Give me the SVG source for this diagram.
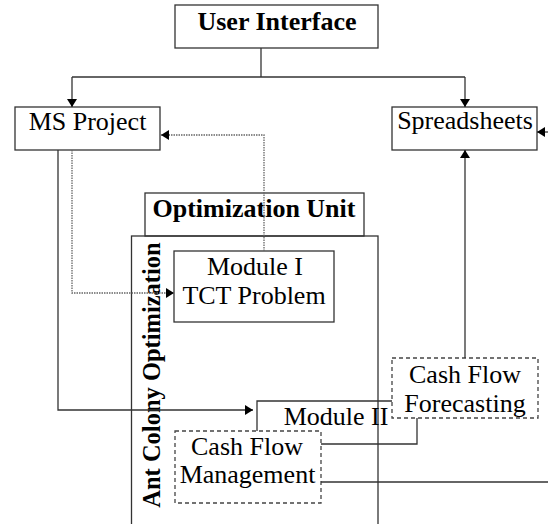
<svg xmlns="http://www.w3.org/2000/svg" width="548" height="524" viewBox="0 0 548 524">
<style>
.box{fill:none;stroke:#333;stroke-width:1.3}
.dbox{fill:none;stroke:#444;stroke-width:1.3;stroke-dasharray:4 3}
.t{font-family:"Liberation Serif","Times New Roman",serif;font-size:26px;fill:#000;text-anchor:middle}
.b{font-weight:bold}
.v{font-size:24.5px}
.ln{fill:none;stroke:#333;stroke-width:1.3}
.dot{fill:none;stroke:#666;stroke-width:1.3;stroke-dasharray:1.5 1}
</style>
<defs>
<marker id="ah" viewBox="0 0 8 10" refX="8" refY="5" markerWidth="8" markerHeight="10" markerUnits="userSpaceOnUse" orient="auto">
<path d="M0,0 L8,5 L0,10 z" fill="#000"/>
</marker>
</defs>
<rect width="548" height="524" fill="#fff"/>
<g id="user-interface">
<rect class="box" x="175" y="5" width="203" height="43"/>
<text class="t b" x="277" y="29.5">User Interface</text>
</g>
<g id="ms-project">
<rect class="box" x="15" y="107" width="145" height="43"/>
<text class="t" x="87.5" y="130">MS Project</text>
</g>
<g id="spreadsheets">
<rect class="box" x="392" y="107" width="145" height="43"/>
<text class="t" x="465" y="128.5">Spreadsheets</text>
</g>
<g id="optimization-unit">
<rect class="box" x="145" y="193" width="219" height="43"/>
<text class="t b" x="254" y="217">Optimization Unit</text>
</g>
<g id="ant-colony-optimization">
<rect class="box" x="131.5" y="236" width="246.5" height="300"/>
<text class="t b v" transform="translate(160,375) rotate(-90)">Ant Colony Optimization</text>
</g>
<g id="module-i">
<rect class="box" x="174" y="251" width="160" height="71"/>
<text class="t" x="255" y="275">Module I</text>
<text class="t" x="254" y="304">TCT Problem</text>
</g>
<g id="module-ii">
<path class="ln" d="M257,431 V401 H392"/>
<text class="t" x="336" y="425">Module II</text>
</g>
<g id="cash-flow-forecasting">
<rect class="dbox" x="392" y="358" width="146" height="60"/>
<text class="t" x="465" y="383">Cash Flow</text>
<text class="t" x="465" y="412">Forecasting</text>
</g>
<g id="cash-flow-management">
<rect class="dbox" x="175" y="431" width="146" height="72"/>
<text class="t" x="247" y="455">Cash Flow</text>
<text class="t" x="247.5" y="483">Management</text>
</g>
<g id="connectors">
<path class="ln" d="M261,48 V77"/>
<path class="ln" d="M72,77 H465"/>
<path class="ln" d="M72,77 V107" marker-end="url(#ah)"/>
<path class="ln" d="M465,77 V107" marker-end="url(#ah)"/>
<path class="ln" d="M58,150 V410 H253" marker-end="url(#ah)"/>
<path class="dot" d="M72,150 V293 H174" marker-end="url(#ah)"/>
<path class="dot" d="M264,251 V135 H161" marker-end="url(#ah)"/>
<path class="ln" d="M465,358 V150" marker-end="url(#ah)"/>
<path class="ln" d="M549,132 H537" marker-end="url(#ah)"/>
<path class="ln" d="M321,444 H417 V418"/>
<path class="ln" d="M321,482 H549"/>
</g>
</svg>
